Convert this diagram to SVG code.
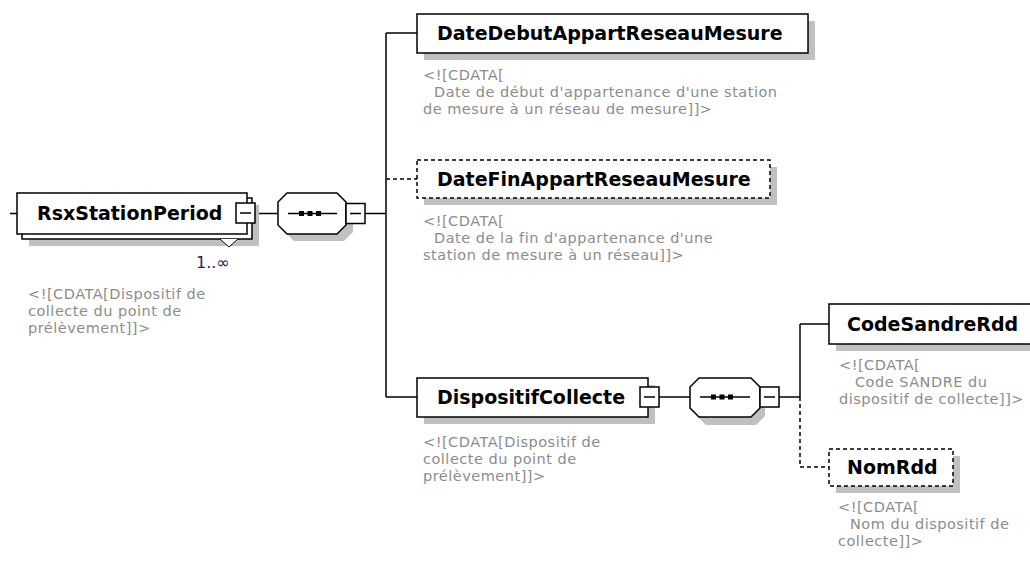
<svg xmlns="http://www.w3.org/2000/svg" width="1030" height="565" viewBox="0 0 1030 565">
<style>
.bg{fill:#ffffff}
.box{fill:#ffffff;stroke:#000000;stroke-width:1.5}
.dbox{fill:#ffffff;stroke:#000000;stroke-width:1.5;stroke-dasharray:4 3}
.sh{fill:#c0c0c0}
.lbl{font-family:"DejaVu Sans","Liberation Sans",sans-serif;font-weight:bold;font-size:19px;fill:#000000}
.doc{font-family:"DejaVu Sans","Liberation Sans",sans-serif;font-size:14.5px;letter-spacing:0.5px;fill:#8c8c8c}
.mult{font-family:"DejaVu Sans","Liberation Sans",sans-serif;font-size:16px;fill:#301850}
.ln{fill:none;stroke:#000000;stroke-width:1.5}
.dln{fill:none;stroke:#000000;stroke-width:1.5;stroke-dasharray:4 3}
.dot{fill:#000000}
</style>
<defs>
<g id="minus"><rect x="0" y="0" width="19" height="20" class="box"/><line x1="4" y1="10" x2="15" y2="10" class="ln"/></g>
</defs>
<rect class="bg" x="0" y="0" width="1030" height="565"/>

<g id="connectors">
<line class="ln" x1="10" y1="213.5" x2="17" y2="213.5"/>
<line class="ln" x1="255" y1="213.5" x2="278" y2="213.5"/>
<line class="ln" x1="365" y1="213.5" x2="386" y2="213.5"/>
<line class="ln" x1="386" y1="33" x2="386" y2="397"/>
<line class="ln" x1="386" y1="33" x2="417" y2="33"/>
<line class="dln" x1="386" y1="179" x2="417" y2="179"/>
<line class="ln" x1="386" y1="397" x2="417" y2="397"/>
<line class="ln" x1="659" y1="397" x2="690" y2="397"/>
<line class="ln" x1="779" y1="397" x2="800" y2="397"/>
<line class="ln" x1="800" y1="324" x2="800" y2="397"/>
<line class="dln" x1="800" y1="397" x2="800" y2="467"/>
<line class="ln" x1="800" y1="324" x2="829" y2="324"/>
<line class="dln" x1="800" y1="467" x2="829" y2="467"/>
</g>

<g id="RsxStationPeriod">
<rect class="sh" x="29" y="205" width="230" height="41"/>
<rect class="box" x="22" y="198" width="230" height="41"/>
<rect class="box" x="17" y="193" width="230" height="41"/>
<text class="lbl" x="37" y="220">RsxStationPeriod</text>
<use href="#minus" x="236" y="203"/>
<polyline points="220,239 229,247 238,239" fill="#ffffff" stroke="#000000" stroke-width="1"/>
<text class="mult" x="196" y="268">1..∞</text>
<text class="doc"><tspan x="28" y="299">&lt;![CDATA[Dispositif de</tspan><tspan x="28" y="316">collecte du point de</tspan><tspan x="28" y="333">prélèvement]]&gt;</tspan></text>
</g>

<g id="seq1">
<polygon class="sh" points="294,200 344,200 353,209 353,232 344,241 294,241 285,232 285,209"/>
<polygon class="box" points="287,193 337,193 346,202 346,225 337,234 287,234 278,225 278,202"/>
<line class="ln" x1="288" y1="213.5" x2="337" y2="213.5"/>
<rect class="dot" x="299" y="211" width="5" height="5"/>
<rect class="dot" x="307.5" y="211" width="5" height="5"/>
<rect class="dot" x="316" y="211" width="5" height="5"/>
<use href="#minus" x="346" y="203.5"/>
</g>

<g id="DateDebutAppartReseauMesure">
<rect class="sh" x="424" y="21" width="391" height="39"/>
<rect class="box" x="417" y="14" width="391" height="39"/>
<text class="lbl" x="437" y="40">DateDebutAppartReseauMesure</text>
<text class="doc"><tspan x="423" y="80">&lt;![CDATA[</tspan><tspan x="434" y="97">Date de début d'appartenance d'une station</tspan><tspan x="423" y="114">de mesure à un réseau de mesure]]&gt;</tspan></text>
</g>

<g id="DateFinAppartReseauMesure">
<rect class="sh" x="424" y="167" width="353" height="38"/>
<rect class="dbox" x="417" y="160" width="353" height="38"/>
<text class="lbl" x="437" y="186">DateFinAppartReseauMesure</text>
<text class="doc"><tspan x="423" y="226">&lt;![CDATA[</tspan><tspan x="434" y="243">Date de la fin d'appartenance d'une</tspan><tspan x="423" y="260">station de mesure à un réseau]]&gt;</tspan></text>
</g>

<g id="DispositifCollecte">
<rect class="sh" x="424" y="385" width="231" height="39"/>
<rect class="box" x="417" y="378" width="231" height="39"/>
<text class="lbl" x="437" y="404">DispositifCollecte</text>
<use href="#minus" x="640" y="387"/>
<text class="doc"><tspan x="423" y="447">&lt;![CDATA[Dispositif de</tspan><tspan x="423" y="464">collecte du point de</tspan><tspan x="423" y="481">prélèvement]]&gt;</tspan></text>
</g>

<g id="seq2">
<polygon class="sh" points="706,385 756,385 765,394 765,416 756,425 706,425 697,416 697,394"/>
<polygon class="box" points="699,378 751,378 760,387 760,408 751,417 699,417 690,408 690,387"/>
<line class="ln" x1="700" y1="397" x2="750" y2="397"/>
<rect class="dot" x="711" y="394.5" width="5" height="5"/>
<rect class="dot" x="719.5" y="394.5" width="5" height="5"/>
<rect class="dot" x="728" y="394.5" width="5" height="5"/>
<use href="#minus" x="760" y="387"/>
</g>

<g id="CodeSandreRdd">
<rect class="sh" x="836" y="311" width="215" height="40"/>
<rect class="box" x="829" y="304" width="215" height="40"/>
<text class="lbl" x="847" y="331">CodeSandreRdd</text>
<text class="doc"><tspan x="839" y="370">&lt;![CDATA[</tspan><tspan x="855" y="387">Code SANDRE du</tspan><tspan x="839" y="404">dispositif de collecte]]&gt;</tspan></text>
</g>

<g id="NomRdd">
<rect class="sh" x="836" y="456" width="124" height="37"/>
<rect class="dbox" x="829" y="449" width="124" height="37"/>
<text class="lbl" x="847" y="474">NomRdd</text>
<text class="doc"><tspan x="838" y="512">&lt;![CDATA[</tspan><tspan x="850" y="529">Nom du dispositif de</tspan><tspan x="838" y="546">collecte]]&gt;</tspan></text>
</g>
</svg>
